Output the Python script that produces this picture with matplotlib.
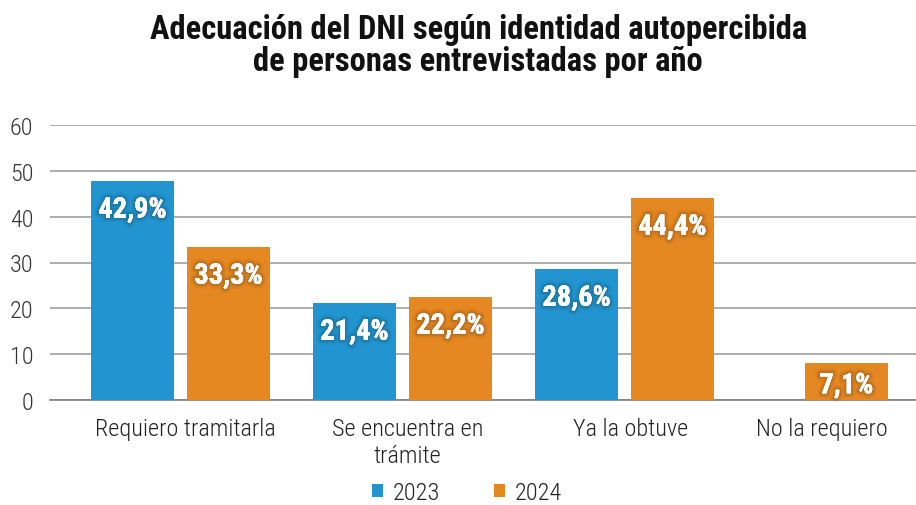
import matplotlib
matplotlib.use("Agg")
import matplotlib.pyplot as plt
import matplotlib.patheffects as pe
import matplotlib.transforms as mtrans
from matplotlib.patches import Patch
import numpy as np

categories = ["Requiero tramitarla", "Se encuentra en\ntrámite", "Ya la obtuve", "No la requiero"]
series_names = ["2023", "2024"]
values_2023 = [47.8, 21.2, 28.6, None]
values_2024 = [33.4, 22.5, 44.1, 8.1]
labels_2023 = ["42,9%", "21,4%", "28,6%", None]
labels_2024 = ["33,3%", "22,2%", "44,4%", "7,1%"]
yticks = [0, 10, 20, 30, 40, 50, 60]
title = "Adecuación del DNI según identidad autopercibida\nde personas entrevistadas por año"

BLUE = "#2294D0"
ORANGE = "#E58822"
FONT = ["Roboto Condensed", "DejaVu Sans"]
plt.rcParams["font.family"] = FONT

fig = plt.figure(figsize=(9.16, 5.06), dpi=100)
ax = fig.add_axes([50 / 916, 105 / 506, 866 / 916, 275 / 506])

bw = 0.374
off = 0.216
x = np.arange(len(categories))

glow = [pe.withStroke(linewidth=7, foreground=(0, 0, 0, 0.04)),
        pe.withStroke(linewidth=4.5, foreground=(0, 0, 0, 0.06)),
        pe.withStroke(linewidth=2.5, foreground=(0, 0, 0, 0.08)),
        pe.Normal()]

def draw(vals, labs, color, shift_fn):
    for i, (v, lab) in enumerate(zip(vals, labs)):
        if v is None:
            continue
        xc = shift_fn(i)
        ax.bar(xc, v, width=bw, color=color, zorder=3)
        ly = max(v - 6.4, 3.1)
        ax.text(xc, ly, lab, ha="center", va="center", color="white",
                fontsize=20.5, fontweight="bold", zorder=4, path_effects=glow)

def pos2023(i):
    return x[i] - off

def pos2024(i):
    return x[i] + off if values_2023[i] is not None else x[i]

draw(values_2023, labels_2023, BLUE, pos2023)
draw(values_2024, labels_2024, ORANGE, pos2024)

ax.set_ylim(0, 60)
ax.set_xlim(-0.588, 3.313)
ax.set_yticks(yticks)
ax.set_yticklabels([str(t) for t in yticks], fontsize=17.5, color="#333333", fontweight="light")
ax.set_xticks(x)
ax.set_xticklabels(categories, fontsize=17.5, color="#222222", linespacing=1.25, fontweight="light")
ax.tick_params(axis="both", length=0)
ax.tick_params(axis="y", pad=12)
ax.tick_params(axis="x", pad=12)
xl = ax.get_xticklabels()
shifts = [5, 5, 6, -25]
for lab, s in zip(xl, shifts):
    lab.set_transform(lab.get_transform() + mtrans.ScaledTranslation(s / 100, 0, fig.dpi_scale_trans))
ax.yaxis.grid(True, color="#A0A0A0", linewidth=1.2, zorder=0)
ax.set_axisbelow(True)
for s in ["top", "right", "left"]:
    ax.spines[s].set_visible(False)
ax.spines["bottom"].set_color("#808080")
ax.spines["bottom"].set_linewidth(1.2)

fig.text(0.522, 1 - 46 / 506, title, ha="center", va="center", fontsize=23.5,
         fontweight="bold", color="#111111", linespacing=0.98)

handles = [Patch(facecolor=BLUE), Patch(facecolor=ORANGE)]
leg = fig.legend(handles, series_names, loc="center", bbox_to_anchor=(467 / 916, 1 - 494 / 506),
                 ncol=2, frameon=False, handlelength=0.45, handleheight=0.45,
                 handletextpad=0.4, columnspacing=2.2, labelcolor="#222222",
                 prop={"weight": "light", "size": 17.5}, borderpad=0.0)

fig.savefig("out.png", dpi=100)
